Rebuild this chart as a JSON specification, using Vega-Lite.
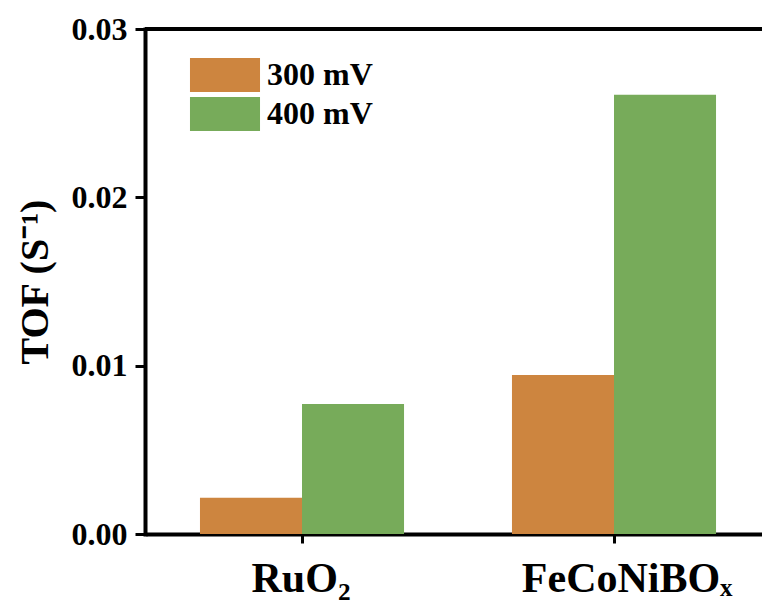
{
  "$schema": "https://vega.github.io/schema/vega-lite/v6.json",
  "width": 617,
  "height": 505,
  "autosize": {"type": "none"},
  "padding": {"left": 145, "top": 29, "right": 0, "bottom": 74},
  "background": "white",
  "config": {"view": {"stroke": null}, "font": "Liberation Serif"},
  "data": {"values": [
    {"material": "RuO₂", "voltage": "300 mV", "tof": 0.00216},
    {"material": "RuO₂", "voltage": "400 mV", "tof": 0.00772},
    {"material": "FeCoNiBOₓ", "voltage": "300 mV", "tof": 0.00945},
    {"material": "FeCoNiBOₓ", "voltage": "400 mV", "tof": 0.0261}
  ]},
  "layer": [
    {
      "mark": {"type": "bar"},
      "encoding": {
        "x": {
          "field": "material", "type": "nominal", "sort": null,
          "scale": {"range": [1, 625], "paddingInner": 0, "paddingOuter": 0},
          "axis": {"title": null, "labelAngle": 0, "labelLimit": 0, "labelFont": "Liberation Serif", "labelFontSize": 42, "labelFontWeight": "bold", "labelColor": "black", "labelPadding": 15, "labelOffset": {"condition": {"test": "datum.value === 'FeCoNiBOₓ'", "value": 13}, "value": -1}, "tickSize": 9, "tickWidth": 3, "tickColor": "black", "domainColor": "black", "domainWidth": 4, "labelOverlap": false}
        },
        "xOffset": {"field": "voltage", "type": "nominal", "scale": {"paddingOuter": 0.529, "paddingInner": 0}},
        "y": {
          "field": "tof", "type": "quantitative",
          "scale": {"domain": [0, 0.03], "nice": false},
          "axis": {"values": [0, 0.01, 0.02, 0.03], "format": ".2f", "title": "TOF (S⁻¹)", "titleFont": "Liberation Serif", "titleFontSize": 40, "titleFontWeight": "bold", "titleColor": "black", "titlePadding": 16, "labelFont": "Liberation Serif", "labelFontSize": 32, "labelFontWeight": "bold", "labelColor": "black", "labelPadding": 8, "tickSize": 10, "tickWidth": 3, "tickColor": "black", "domainColor": "black", "domainWidth": 4, "domainCap": "square", "grid": false, "labelOverlap": false}
        },
        "color": {
          "field": "voltage", "type": "nominal",
          "scale": {"domain": ["300 mV", "400 mV"], "range": ["#CD853F", "#77AB5A"]},
          "legend": {"orient": "none", "legendX": 45, "legendY": 29, "title": null, "padding": 0, "labelFont": "Liberation Serif", "labelFontSize": 32, "labelFontWeight": "bold", "labelColor": "black", "symbolType": "M-2.06,-1H2.06V1H-2.06Z", "symbolSize": 1156, "symbolStrokeWidth": 0, "symbolOpacity": 1, "symbolOffset": 18, "labelOffset": 25, "rowPadding": 5}
        }
      }
    },
    {
      "data": {"values": [{}]},
      "mark": {"type": "rule", "color": "black", "strokeWidth": 4},
      "encoding": {"y": {"datum": 0.03}}
    }
  ]
}
